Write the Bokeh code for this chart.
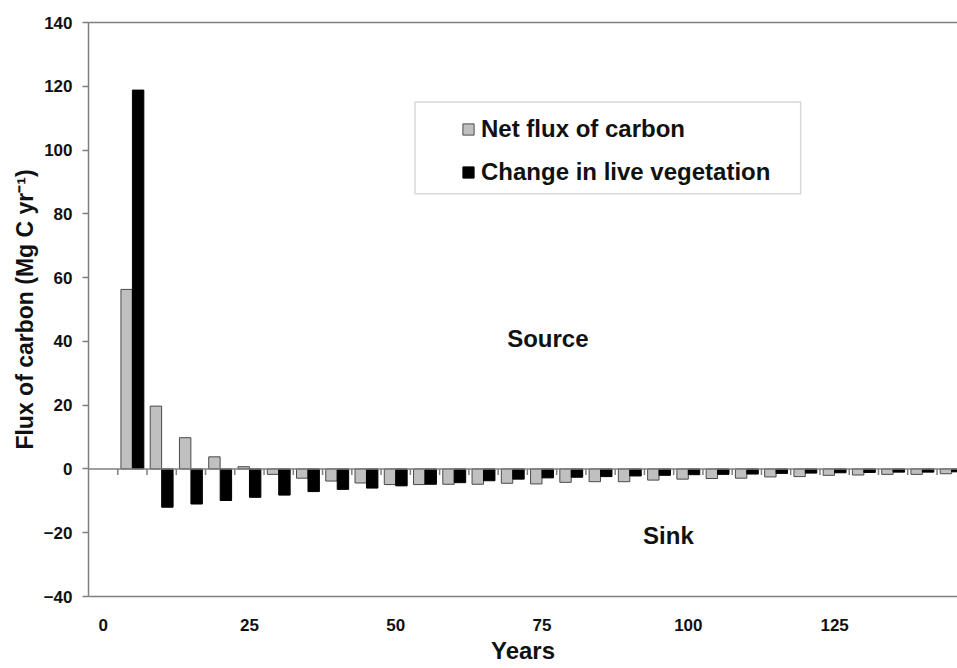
from bokeh.plotting import figure
from bokeh.models import Range1d, FixedTicker, LinearAxis, Span, Legend, LegendItem, BoxAnnotation
from bokeh.core.properties import value
from bokeh.embed import file_html
from bokeh.resources import INLINE

# ---- data ----
years = [5, 10, 15, 20, 25, 30, 35, 40, 45, 50, 55, 60, 65, 70, 75,
         80, 85, 90, 95, 100, 105, 110, 115, 120, 125, 130, 135, 140, 145]
net_flux = [56.3, 19.7, 9.8, 3.8, 0.7, -1.7, -2.9, -3.8, -4.4, -4.9, -4.9, -4.8, -4.8, -4.5, -4.7,
            -4.2, -4.0, -4.0, -3.5, -3.2, -3.0, -2.9, -2.5, -2.4, -2.0, -1.9, -1.7, -1.7, -1.5]
live_veg = [118.8, -12.0, -11.0, -9.9, -8.9, -8.2, -7.1, -6.4, -6.0, -5.3, -4.8, -4.3, -3.7, -3.2, -2.8,
            -2.6, -2.4, -2.2, -2.0, -1.8, -1.7, -1.6, -1.4, -1.3, -1.2, -1.1, -1.0, -1.0, -0.9]
series_names = ["Net flux of carbon", "Change in live vegetation"]
x_ticks = [0, 25, 50, 75, 100, 125]
y_ticks = [-40, -20, 0, 20, 40, 60, 80, 100, 120, 140]
y_tick_labels = {-40: "\u221240", -20: "\u221220"}
region_labels = ["Source", "Sink"]

FONT = "Liberation Sans"
GRAY = "#7f7f7f"
TXT = "#111111"

p = figure(width=957, height=668, output_backend="svg", toolbar_location=None,
           x_range=Range1d(-2.5, 146.0), y_range=Range1d(-40, 140),
           min_border_left=88, min_border_right=0, min_border_top=22, min_border_bottom=72,
           background_fill_color="white", border_fill_color="white")
p.outline_line_color = None
p.grid.visible = False

# bars
bw = 1.95
r_net = p.vbar(x=[y - 0.98 for y in years], top=net_flux, bottom=0, width=bw,
               fill_color="#c0c0c0", line_color="#4a4a4a", line_width=1)
r_veg = p.vbar(x=[y + 0.98 for y in years], top=live_veg, bottom=0, width=bw,
               fill_color="#000000", line_color="#000000", line_width=1)

# zero line with category ticks
p.add_layout(Span(location=0, dimension="width", line_color=GRAY, line_width=1.5))
bounds = [y - 2.5 for y in years]
p.segment(x0=bounds, y0=[0] * len(bounds), x1=bounds, y1=[-1.9] * len(bounds),
          line_color=GRAY, line_width=1.5)

# axes
xa = p.xaxis[0]
xa.ticker = FixedTicker(ticks=x_ticks)
xa.major_tick_out = 0
xa.major_tick_in = 0
xa.minor_tick_line_color = None
xa.axis_line_color = GRAY
xa.axis_line_width = 1.5
xa.major_label_text_font = FONT
xa.major_label_text_font_style = "bold"
xa.major_label_text_font_size = "17px"
xa.major_label_text_color = TXT
xa.major_label_standoff = 22
xa.axis_label = "Years"
xa.axis_label_text_font = FONT
xa.axis_label_text_font_style = "bold"
xa.axis_label_text_font_size = "24px"
xa.axis_label_text_color = TXT
xa.axis_label_standoff = 3

ya = p.yaxis[0]
ya.ticker = FixedTicker(ticks=y_ticks)
ya.major_label_overrides = y_tick_labels
ya.major_tick_out = 6
ya.major_tick_in = 0
ya.major_tick_line_color = GRAY
ya.major_tick_line_width = 1.5
ya.minor_tick_line_color = None
ya.axis_line_color = GRAY
ya.axis_line_width = 1.5
ya.major_label_text_font = FONT
ya.major_label_text_font_style = "bold"
ya.major_label_text_font_size = "17px"
ya.major_label_text_color = TXT
ya.major_label_standoff = 10
ya.axis_label = "Flux of carbon (Mg C yr\u207b\u00b9)"
ya.axis_label_text_font = FONT
ya.axis_label_text_font_style = "bold"
ya.axis_label_text_font_size = "23px"
ya.axis_label_text_color = TXT
ya.axis_label_standoff = 3

top = LinearAxis(ticker=FixedTicker(ticks=[]), major_tick_out=0, major_tick_in=0,
                 minor_tick_out=0, minor_tick_in=0, axis_line_color=GRAY, axis_line_width=1.5,
                 major_label_text_font_size="0px", major_label_standoff=0)
p.add_layout(top, "above")

# region labels
p.text(x=[76.0, 96.6], y=[40.8, -20.9], text=region_labels,
       text_font=value(FONT), text_font_style="bold", text_font_size="24px",
       text_color=TXT, text_align="center", text_baseline="middle")

# legend box + legend
p.add_layout(BoxAnnotation(left=53.3, right=119.2, top=115.1, bottom=86.3,
                           fill_alpha=0, line_color=GRAY, line_width=1.5))
legend = Legend(items=[LegendItem(label=series_names[0], renderers=[r_net]),
                       LegendItem(label=series_names[1], renderers=[r_veg])],
                location=(373, 410), glyph_width=14, glyph_height=14,
                label_text_font=FONT, label_text_font_style="bold", label_text_font_size="24px",
                label_text_color=TXT, label_standoff=6, spacing=15, padding=0, margin=0,
                border_line_color=None, background_fill_alpha=0)
p.add_layout(legend)

open("out.html", "w").write(file_html(p, INLINE))
